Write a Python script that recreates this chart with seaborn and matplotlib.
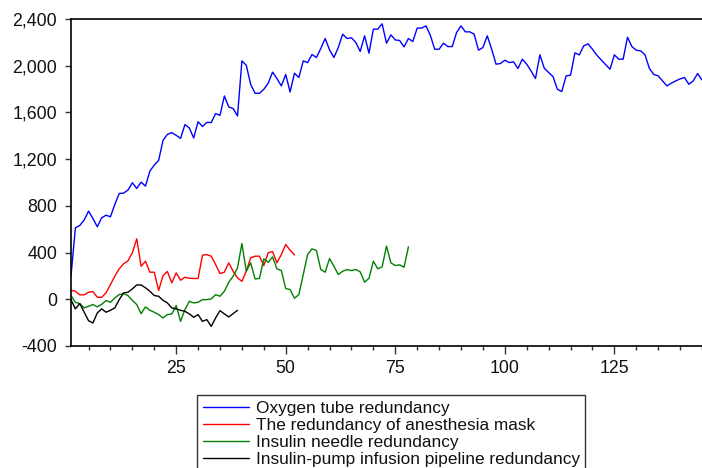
import numpy as np
import pandas as pd
import matplotlib
matplotlib.use("Agg")
import matplotlib.pyplot as plt
from matplotlib.ticker import MultipleLocator, FuncFormatter
import seaborn as sns

sns.set_style("ticks")
plt.rcParams['font.family'] = ['Liberation Sans', 'DejaVu Sans']

series_names = [
    "Oxygen tube redundancy",
    "The redundancy of anesthesia mask",
    "Insulin needle redundancy",
    "Insulin-pump infusion pipeline redundancy",
]
series_colors = ["#0000FF", "#FF0000", "#008000", "#000000"]

oxygen_tube = [
    200, 612, 632, 678, 755, 692, 621, 698, 720, 706,
    812, 906, 909, 935, 998, 949, 1003, 969, 1098, 1149,
    1190, 1361, 1412, 1427, 1404, 1378, 1496, 1467, 1381, 1521,
    1479, 1515, 1513, 1590, 1575, 1741, 1647, 1633, 1570, 2041,
    2004, 1841, 1764, 1764, 1798, 1850, 1945, 1890, 1827, 1925,
    1775, 1936, 1899, 2041, 2027, 2096, 2070, 2147, 2233, 2136,
    2070, 2156, 2270, 2233, 2239, 2199, 2122, 2256, 2107, 2313,
    2313, 2359, 2193, 2264, 2221, 2216, 2161, 2233, 2207, 2322,
    2322, 2341, 2261, 2141, 2141, 2193, 2164, 2164, 2285, 2341,
    2290, 2290, 2270, 2133, 2156, 2256, 2141, 2013, 2019, 2047,
    2027, 2033, 1976, 2056, 2013, 1955, 1890, 2093, 1979, 1942,
    1907, 1798, 1779, 1913, 1919, 2110, 2093, 2170, 2187, 2141,
    2090, 2050, 2010, 1970, 2093, 2056, 2056, 2244, 2164, 2133,
    2127, 2093, 1976, 1925, 1913, 1870, 1827, 1850, 1870, 1887,
    1899, 1841, 1870, 1933, 1878,
]

anesthesia_mask = [
    77, 69, 38, 38, 60, 66, 17, 17, 55, 126,
    197, 261, 304, 329, 398, 518, 283, 326, 232, 232,
    75, 203, 238, 140, 226, 163, 189, 180, 178, 178,
    377, 383, 369, 298, 220, 232, 312, 240, 183, 154,
    240, 355, 369, 369, 289, 398, 409, 312, 383, 469,
    420, 380,
]

insulin_needle = [
    32, -26, -37, -74, -60, -45, -65, -43, -11, -26,
    12, 40, 49, 32, -9, -45, -123, -65, -94, -111,
    -131, -160, -131, -125, -54, -189, -88, -17, -31, -26,
    -3, -3, 3, 40, 26, 69, 146, 197, 269, 478,
    240, 312, 175, 178, 346, 317, 363, 261, 246, 92,
    83, 9, 40, 212, 383, 432, 418, 255, 232, 349,
    283, 212, 240, 255, 246, 255, 235, 146, 180, 326,
    261, 278, 455, 312, 289, 295, 274, 449,
]

insulin_pump = [
    -3, -82, -37, -110, -183, -203, -117, -82, -111, -94,
    -74, -3, 55, 60, 89, 123, 123, 98, 69, 32,
    26, -9, -31, -74, -82, -94, -103, -125, -154, -131,
    -189, -174, -232, -160, -97, -125, -151, -123, -94,
]

all_series = [oxygen_tube, anesthesia_mask, insulin_needle, insulin_pump]
frames = []
for name, vals in zip(series_names, all_series):
    frames.append(pd.DataFrame({"obs": np.arange(1, len(vals) + 1),
                                "value": vals,
                                "series": name}))
df = pd.concat(frames, ignore_index=True)

W, H = 702, 468
fig = plt.figure(figsize=(W / 100, H / 100), dpi=100)
ax = fig.add_axes([71 / W, 1 - 346 / H, (702 - 71) / W, (346 - 19) / H])

sns.lineplot(data=df, x="obs", y="value", hue="series", hue_order=series_names,
             palette=series_colors, linewidth=1.0, ax=ax, legend=False,
             estimator=None, sort=False)

ax.set_xlim(1, 145)
ax.set_ylim(-400, 2400)
ax.xaxis.set_major_locator(MultipleLocator(25))
ax.xaxis.set_minor_locator(MultipleLocator(5))
ax.yaxis.set_major_locator(MultipleLocator(400))
ax.yaxis.set_major_formatter(FuncFormatter(lambda v, p: f"{int(v):,}"))
ax.set_xlabel("")
ax.set_ylabel("")

for s in ["left", "bottom", "top"]:
    ax.spines[s].set_visible(True)
    ax.spines[s].set_color("black")
    ax.spines[s].set_linewidth(1.2)
ax.spines["right"].set_visible(False)

ax.tick_params(axis="both", which="major", labelsize=12.8, colors="#333333",
               labelcolor="#111111", width=1.0)
ax.tick_params(axis="x", which="major", length=6, pad=4)
ax.tick_params(axis="x", which="minor", length=3, width=1.0, colors="#333333")
ax.tick_params(axis="y", which="major", length=4, pad=6)
ax.grid(False)

handles = [plt.Line2D([], [], color=c, lw=1.0) for c in series_colors]
leg = fig.legend(handles, series_names, loc="upper left",
                 bbox_to_anchor=(197 / W, 1 - 395 / H),
                 bbox_transform=fig.transFigure,
                 fontsize=12.4, frameon=True, fancybox=False,
                 handlelength=2.7, handletextpad=0.4, labelspacing=0.13,
                 borderpad=0.32, borderaxespad=0.0)
leg.get_frame().set_edgecolor("black")
leg.get_frame().set_linewidth(1.0)
for t in leg.get_texts():
    t.set_color("#111111")

fig.savefig("out.png", dpi=100)
